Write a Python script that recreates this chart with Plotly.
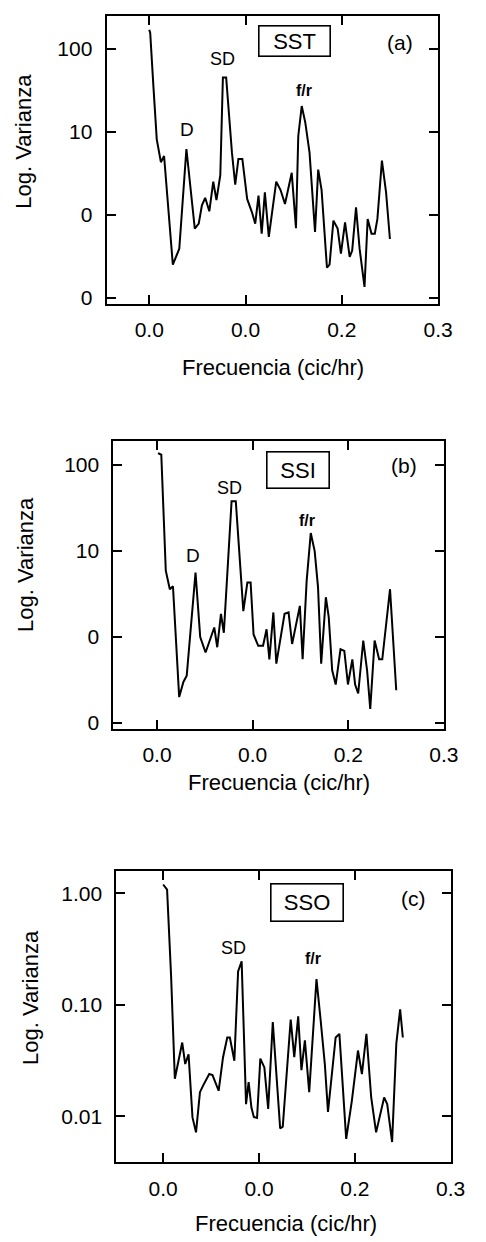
import plotly.graph_objects as go

W, H = 486, 1242

# ---------------- data ----------------
freq_sst = [0.000, 0.0010, 0.0043, 0.0078, 0.0121, 0.0154, 0.0245, 0.0312, 0.0386, 0.0473,
            0.0514, 0.0547, 0.0581, 0.0624, 0.0665, 0.0698, 0.0738, 0.0765, 0.0799, 0.0859,
            0.0893, 0.0926, 0.0967, 0.1017, 0.1067, 0.1101, 0.1135, 0.1168, 0.1201, 0.1242,
            0.1319, 0.1363, 0.1410, 0.1480, 0.1524, 0.1548, 0.1584, 0.1621, 0.1665, 0.1722,
            0.1755, 0.1790, 0.1846, 0.1873, 0.1913, 0.1957, 0.1991, 0.2034, 0.2082, 0.2108,
            0.2148, 0.2185, 0.2236, 0.2269, 0.2309, 0.2343, 0.2370, 0.2417, 0.2460, 0.2500]
var_sst = [170, 155, 35.5, 8.1, 4.3, 5.1, 0.25, 0.39, 6.2, 0.68,
           0.78, 1.3, 1.6, 1.1, 2.5, 1.5, 3.0, 45, 45, 5.6,
           2.3, 4.7, 4.7, 1.55, 1.07, 0.78, 1.7, 0.59, 1.86, 0.54,
           2.5, 2.0, 1.35, 3.2, 0.69, 8.9, 20.4, 12.9, 5.6, 0.62,
           3.5, 2.0, 0.23, 0.25, 0.85, 0.68, 0.34, 0.81, 0.31, 0.37,
           1.23, 0.39, 0.135, 0.89, 0.59, 0.59, 0.89, 4.5, 1.86, 0.51]

freq_ssi = [0.0011, 0.0045, 0.0092, 0.0134, 0.0167, 0.0232, 0.0276, 0.0311, 0.0403, 0.0452,
            0.0508, 0.0553, 0.0599, 0.0630, 0.0669, 0.0699, 0.0780, 0.0824, 0.0903, 0.0945,
            0.0979, 0.1010, 0.1059, 0.1109, 0.1146, 0.1175, 0.1217, 0.1248, 0.1334, 0.1376,
            0.1413, 0.1494, 0.1523, 0.1565, 0.1608, 0.1649, 0.1684, 0.1717, 0.1766, 0.1796,
            0.1832, 0.1869, 0.1919, 0.1959, 0.1997, 0.2043, 0.2072, 0.2104, 0.2157, 0.2197,
            0.2230, 0.2276, 0.2323, 0.2356, 0.2437, 0.2502]
var_ssi = [138, 132, 5.9, 3.6, 3.9, 0.20, 0.30, 0.355, 5.6, 1.0,
           0.66, 0.91, 1.29, 0.76, 1.86, 1.12, 38, 38, 2.0, 4.3,
           4.3, 1.07, 0.79, 0.79, 1.23, 0.55, 1.93, 0.49, 1.86, 1.93,
           0.83, 2.3, 0.55, 4.5, 16.2, 10.0, 3.8, 0.49, 2.9, 1.7,
           0.41, 0.28, 0.72, 0.69, 0.28, 0.55, 0.28, 0.22, 0.91, 0.41,
           0.146, 0.91, 0.55, 0.55, 3.6, 0.24]

freq_sso = [0.000, 0.0041, 0.0083, 0.0122, 0.0199, 0.0230, 0.0265, 0.0306, 0.0343, 0.0384,
            0.0418, 0.0481, 0.0515, 0.0579, 0.0625, 0.0669, 0.0696, 0.0743, 0.0782, 0.0819,
            0.0865, 0.0892, 0.0921, 0.0946, 0.0980, 0.1014, 0.1056, 0.1096, 0.1144, 0.1221,
            0.1248, 0.1331, 0.1368, 0.1409, 0.1443, 0.1479, 0.1524, 0.1600, 0.1644, 0.1687,
            0.1720, 0.1800, 0.1839, 0.1872, 0.1910, 0.1969, 0.2033, 0.2074, 0.2121, 0.2171,
            0.2222, 0.2306, 0.2338, 0.2389, 0.2433, 0.2473, 0.2501]
var_sso = [1.2, 1.08, 0.18, 0.0218, 0.046, 0.0295, 0.036, 0.0098, 0.0072, 0.0165,
           0.019, 0.024, 0.0235, 0.017, 0.034, 0.051, 0.051, 0.0316, 0.20, 0.246,
           0.0129, 0.0203, 0.012, 0.0099, 0.0097, 0.033, 0.0275, 0.0117, 0.07, 0.0078,
           0.0081, 0.074, 0.034, 0.079, 0.026, 0.048, 0.0165, 0.17, 0.072, 0.0295,
           0.011, 0.051, 0.055, 0.021, 0.0063, 0.0138, 0.039, 0.024, 0.055, 0.0148,
           0.0072, 0.0148, 0.0129, 0.0059, 0.045, 0.091, 0.051]

x_tickvals = [0.0, 0.1, 0.2, 0.3]
x_ticktext = ["0.0", "0.0", "0.2", "0.3"]
y_tickvals_ab = [0.1, 1, 10, 100]
y_ticktext_ab = ["0", "0", "10", "100"]
y_tickvals_c = [0.01, 0.1, 1]
y_ticktext_c = ["0.01", "0.10", "1.00"]

series_names = ["SST", "SSI", "SSO"]
panel_tags = ["(a)", "(b)", "(c)"]
x_title = "Frecuencia (cic/hr)"
y_title = "Log. Varianza"

# ---------------- layout geometry (pixels) ----------------
FONT = "Liberation Sans, Arial, sans-serif"
panels = [
    dict(x=freq_sst, y=var_sst, box=(110, 452, 16, 305), xr=[-0.0443, 0.300], yr=[-1.073, 2.396],
         tv=y_tickvals_ab, tt=y_ticktext_ab),
    dict(x=freq_ssi, y=var_ssi, box=(117, 458, 443, 732), xr=[-0.0456, 0.300], yr=[-1.071, 2.278],
         tv=y_tickvals_ab, tt=y_ticktext_ab),
    dict(x=freq_sso, y=var_sso, box=(120, 465, 875, 1167), xr=[-0.0489, 0.300], yr=[-2.411, 0.196],
         tv=y_tickvals_c, tt=y_ticktext_c),
]

fig = go.Figure()
layout = dict(width=W, height=H, margin=dict(l=0, r=0, t=0, b=0),
              paper_bgcolor="white", plot_bgcolor="white", showlegend=False,
              font=dict(family=FONT, color="black"))

for i, p in enumerate(panels):
    n = "" if i == 0 else str(i + 1)
    l, r, t, b = p["box"]
    fig.add_trace(go.Scatter(x=p["x"], y=p["y"], mode="lines",
                             line=dict(color="black", width=2),
                             xaxis="x" + n, yaxis="y" + n, hoverinfo="skip"))
    common = dict(showline=True, linecolor="black", linewidth=2, mirror="ticks",
                  ticks="inside", ticklen=9, tickwidth=1.5, tickcolor="black",
                  showgrid=False, zeroline=False, tickfont=dict(family=FONT, size=21, color="black"))
    layout["xaxis" + n] = dict(domain=[l / W, r / W], range=p["xr"], anchor="y" + n,
                               tickvals=x_tickvals, ticktext=x_ticktext, ticklabelstandoff=6, **common)
    layout["yaxis" + n] = dict(domain=[1 - b / H, 1 - t / H], range=p["yr"], type="log", anchor="x" + n,
                               tickvals=p["tv"], ticktext=p["tt"], ticklabelstandoff=8, **common)

anns = []
def ann(x, y, text, size, bold=False, border=False, angle=0, w=None, h=None):
    d = dict(x=x / W, y=1 - y / H, xref="paper", yref="paper", showarrow=False,
             text=("<b>%s</b>" % text) if bold else text, textangle=angle,
             font=dict(family=FONT, size=size, color="black"), xanchor="center", yanchor="middle")
    if border:
        d.update(bordercolor="black", borderwidth=1.6, width=w, height=h, borderpad=0)
    anns.append(d)

# box labels & panel tags
ann(304, 41, series_names[0], 22, border=True, w=70, h=29)
ann(308, 471.5, series_names[1], 22, border=True, w=61, h=35)
ann(316.5, 906, series_names[2], 22, border=True, w=71, h=36)
ann(413, 43, panel_tags[0], 21)
ann(417, 467, panel_tags[1], 21)
ann(427, 902, panel_tags[2], 21)
# peak labels
ann(230, 59, "SD", 18)
ann(193, 130, "D", 19)
ann(314, 91, "f/r", 16, bold=True)
ann(237, 490, "SD", 18)
ann(199, 558, "D", 19)
ann(317, 523, "f/r", 16, bold=True)
ann(241, 952, "SD", 18)
ann(323, 962, "f/r", 16, bold=True)
# axis titles
ann(282, 369, x_title, 22)
ann(288, 786, x_title, 22)
ann(295, 1228, x_title, 22)
ann(24, 142, y_title, 22, angle=-90)
ann(27, 567, y_title, 22, angle=-90)
ann(32, 1002, y_title, 22, angle=-90)

layout["annotations"] = anns
fig.update_layout(**layout)
fig.write_html("out.html")
